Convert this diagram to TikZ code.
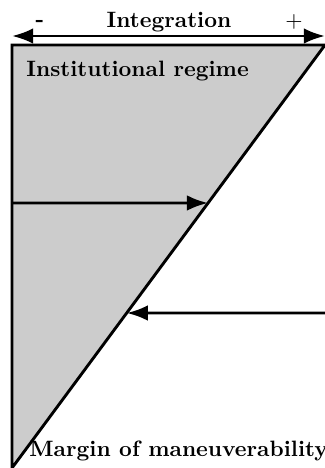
\documentclass[tikz,border=0pt]{standalone}
\usepackage{amsmath,amssymb}
\usepackage{xcolor}
\usetikzlibrary{arrows.meta,calc}

\begin{document}
\begin{tikzpicture}[x=0.45pt,y=-0.45pt,line width=1.3pt,>={Latex[length=9.5pt,width=7pt]}]
\useasboundingbox (0,0) rectangle (325,468);
\coordinate (tl) at (12,45);
\coordinate (tr) at (325,45);
\coordinate (bl) at (12,468);
\fill[black!20] (tl)--(tr)--(bl)--cycle;
\draw (bl)--(tl)--(tr)--(bl);
% integration axis
\coordinate (il) at (12,36);
\coordinate (ir) at (325,36);
\draw[<->] (il)--(ir);
\node[font=\bfseries,anchor=base] (integ) at (169,28) {Integration};
\node[font=\bfseries,inner sep=0] (minus) at (40,23) {-};
\node[inner sep=0] (plus) at (294,22) {$+$};
% texts
\node[font=\bfseries,anchor=base west,inner sep=0] (regime) at (25,77) {Institutional regime};
\node[font=\bfseries,anchor=base west,inner sep=0] (margin) at (28,456) {Margin of maneuverability};
% arrows to the diagonal
\coordinate (a1) at (12,203);
\coordinate (a2) at (325,313);
\draw[->] (a1)--($(tr)!0.3735!(bl)$);
\draw[->] (a2)--($(tr)!0.6336!(bl)$);
\end{tikzpicture}
\end{document}
